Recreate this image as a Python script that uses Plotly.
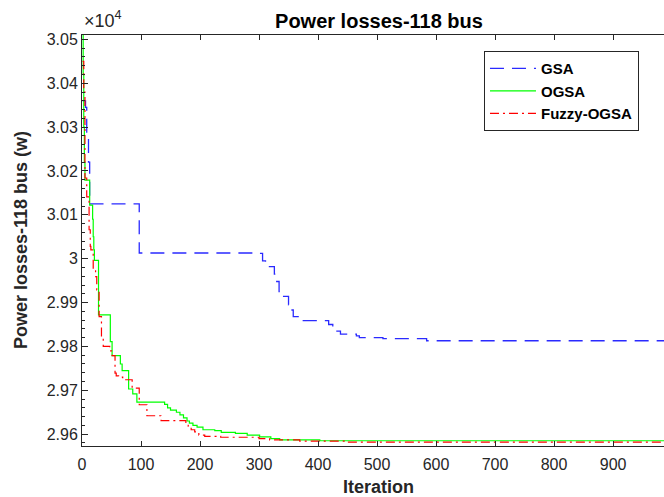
import plotly.graph_objects as go

# ---------------- data (power losses in W, plotted as x10^4) ----------------
gsa_iter = [1, 6, 8, 11, 13, 97, 300, 306, 311, 326, 330, 334, 337, 350, 354, 358,
            375, 418, 425, 432, 438, 465, 470, 510, 584, 1000]
gsa_loss = [30360, 30345, 30285, 30220, 30125, 30013, 30012, 29995, 29982, 29965, 29948,
            29925, 29914, 29895, 29883, 29868, 29859, 29850, 29842, 29835, 29828, 29824,
            29820, 29818, 29813, 29813]

ogsa_iter = [1, 2, 3, 4, 5, 13, 18, 19, 20, 21, 28, 48, 51, 65, 68, 79, 86, 93, 140, 145,
             150, 160, 166, 172, 178, 182, 188, 195, 205, 225, 236, 260, 280, 301, 320,
             335, 403, 1000]
ogsa_loss = [30600, 30420, 30300, 30220, 30179, 30122, 30090, 30050, 30020, 29996, 29872,
             29811, 29779, 29760, 29745, 29703, 29692, 29673, 29668, 29660, 29655, 29650,
             29644, 29637, 29630, 29625, 29620, 29616, 29610, 29608, 29604, 29602, 29598,
             29594, 29590, 29587, 29585, 29585]

fuzzy_iter = [1, 3, 5, 8, 12, 14, 15, 19, 23, 25, 29, 33, 36, 47, 51, 56, 58, 62, 69, 85,
              97, 110, 134, 176, 180, 185, 191, 198, 208, 235, 300, 318, 369, 450, 1000]
fuzzy_loss = [30450, 30380, 30184, 30141, 30066, 30028, 30020, 29975, 29959, 29929, 29868,
              29822, 29800, 29790, 29779, 29739, 29733, 29730, 29724, 29705, 29667, 29642,
              29631, 29625, 29618, 29610, 29605, 29598, 29595, 29593, 29590, 29587, 29584,
              29582, 29582]

scale = 1e4
x_ticks = list(range(0, 1000, 100))

FONT = "Liberation Sans, Arial, sans-serif"
AX = "#262626"

fig = go.Figure()
fig.add_trace(go.Scatter(x=gsa_iter, y=[v / scale for v in gsa_loss], mode="lines",
                         name="GSA", line=dict(color="#2a2aff", width=1.3, dash="14px,8px", shape="hv")))
fig.add_trace(go.Scatter(x=ogsa_iter, y=[v / scale for v in ogsa_loss], mode="lines",
                         name="OGSA", line=dict(color="#00ff00", width=1.2, shape="hv")))
fig.add_trace(go.Scatter(x=fuzzy_iter, y=[v / scale for v in fuzzy_loss], mode="lines",
                         name="Fuzzy-OGSA", line=dict(color="#ff0000", width=1.2, dash="9px,4px,2px,4px", shape="hv")))

fig.update_layout(
    width=664, height=497,
    margin=dict(l=82, r=0, t=35, b=51),
    paper_bgcolor="white", plot_bgcolor="white",
    font=dict(family=FONT, color=AX),
    title=dict(text="<b>Power losses-118 bus</b>", x=0.5103, xref="paper", xanchor="center",
               y=1 - 21 / 497, yref="container", yanchor="middle",
               font=dict(size=20, color="black", family=FONT)),
    legend=dict(x=0.6907, y=0.961, xanchor="left", yanchor="top",
                bordercolor=AX, borderwidth=1, bgcolor="white",
                font=dict(size=15, color="black", family=FONT, weight="bold"),
                tracegroupgap=0, itemwidth=46),
    xaxis=dict(range=[0, 986.3], tickvals=x_ticks, ticks="inside", ticklen=5,
               tickcolor=AX, showline=True, linecolor=AX, linewidth=1, mirror="ticks",
               showgrid=False, zeroline=False, tickfont=dict(size=16, color=AX),
               ticklabelstandoff=4),
    yaxis=dict(range=[2.9573, 3.0510], tick0=2.96, dtick=0.01, ticks="inside", ticklen=6,
               tickcolor=AX, showline=True, linecolor=AX, linewidth=1, mirror=False,
               showgrid=False, zeroline=False, tickfont=dict(size=16, color=AX),
               minor=dict(tick0=2.96, dtick=0.002, ticks="inside", ticklen=3, tickcolor=AX, showgrid=False)),
    annotations=[
        dict(text="<b>Iteration</b>", x=0.5103, y=(446 - 487) / 411, xref="paper", yref="paper",
             xanchor="center", yanchor="middle", showarrow=False,
             font=dict(size=18, color=AX, family=FONT)),
        dict(text="<b>Power losses-118 bus (w)</b>", x=(20.5 - 82) / 582, y=0.5, xref="paper", yref="paper",
             xanchor="center", yanchor="middle", textangle=-90, showarrow=False,
             font=dict(size=18, color=AX, family=FONT)),
        dict(text="×10<sup>4</sup>", x=0, y=(446 - 19) / 411, xref="paper", yref="paper",
             xanchor="left", yanchor="middle", showarrow=False,
             font=dict(size=18, color=AX, family=FONT)),
    ],
)

fig.write_html("out.html")
